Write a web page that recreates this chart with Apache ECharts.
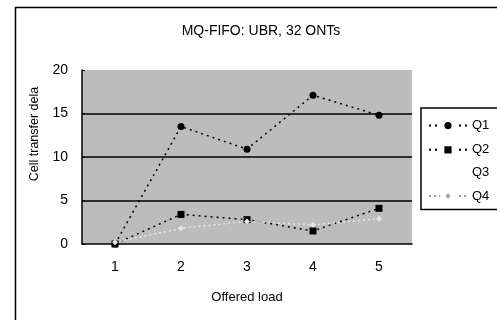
<!DOCTYPE html>
<html>
<head>
<meta charset="utf-8">
<script src="https://cdn.jsdelivr.net/npm/echarts@6/dist/echarts.min.js"></script>
<style>html,body{margin:0;padding:0;background:#fff}#c{width:497px;height:320px}</style>
</head>
<body>
<div id="c"></div>
<script>
const categories = ['1', '2', '3', '4', '5'];
const q1 = [0, 13.5, 10.9, 17.1, 14.8];
const q2 = [0, 3.4, 2.8, 1.5, 4.1];
const q3 = [0, 2.2, 2.7, 2.0, 2.8];
const q4 = [0.2, 1.8, 2.6, 2.2, 2.9];
const yTicks = [0, 5, 10, 15, 20];
const FONT = '"Liberation Sans", Arial, sans-serif';

const chart = echarts.init(document.getElementById('c'), null, {renderer: 'canvas'});
chart.setOption({
  animation: false,
  backgroundColor: '#fff',
  title: {
    text: 'MQ-FIFO: UBR, 32 ONTs',
    left: 256, top: 19, textAlign: 'center',
    textStyle: {fontFamily: FONT, fontSize: 14, fontWeight: 'normal', color: '#000'}
  },
  graphic: [
    {type: 'rect', left: 13, top: 5, shape: {width: 520, height: 340},
     style: {fill: 'none', stroke: '#000', lineWidth: 1.5}, silent: true, z: -1},
    {type: 'text', x: 35, y: 134, rotation: Math.PI / 2,
     style: {text: 'Cell transfer dela', fontFamily: FONT, fontSize: 12.5, fill: '#000',
             align: 'center', verticalAlign: 'middle'}}
  ],
  legend: {
    orient: 'vertical', left: 421, top: 108,
    padding: [10, 60, 6, 7], itemGap: 9,
    itemWidth: 38, itemHeight: 14,
    borderColor: '#000', borderWidth: 1.5,
    textStyle: {fontFamily: FONT, fontSize: 13, color: '#000'},
    data: [
      {name: 'Q1', itemStyle: {borderWidth: 4, borderColor: '#fff'}},
      {name: 'Q2', itemStyle: {borderWidth: 4, borderColor: '#fff'}},
      {name: 'Q3'},
      {name: 'Q4', itemStyle: {color: '#aaa', borderWidth: 4, borderColor: '#fff'}, lineStyle: {color: '#999'}}
    ]
  },
  grid: {left: 82, right: 85, top: 70, bottom: 76, show: true, backgroundColor: '#bcbcbc', borderWidth: 0},
  xAxis: {
    type: 'category', data: categories, boundaryGap: true,
    name: 'Offered load', nameLocation: 'middle', nameGap: 47,
    nameTextStyle: {fontFamily: FONT, fontSize: 13, color: '#000'},
    axisLine: {lineStyle: {color: '#000', width: 1.5}},
    axisTick: {inside: true, length: 4, lineStyle: {color: '#000', width: 1.5}},
    axisLabel: {fontFamily: FONT, fontSize: 14, color: '#000', margin: 16}
  },
  yAxis: {
    type: 'value', min: 0, max: 20, interval: 5,
    axisLine: {show: true, lineStyle: {color: '#000', width: 1.5}},
    axisTick: {show: true, inside: true, length: 3, lineStyle: {color: '#000'}},
    axisLabel: {fontFamily: FONT, fontSize: 14, color: '#000', margin: 14,
      formatter: v => (yTicks.indexOf(v) >= 0 ? String(v) : '')},
    splitLine: {show: true, showMinLine: false, showMaxLine: false, lineStyle: {color: '#000', width: 1.5}}
  },
  series: [
    {name: 'Q1', type: 'line', data: q1, symbol: 'circle', symbolSize: 7,
     itemStyle: {color: '#000'}, lineStyle: {color: '#000', width: 1.5, type: [2, 4]}},
    {name: 'Q2', type: 'line', data: q2, symbol: 'rect', symbolSize: 7,
     itemStyle: {color: '#000'}, lineStyle: {color: '#000', width: 1.5, type: [2, 4]}},
    {name: 'Q3', type: 'line', data: q3, symbol: 'none',
     itemStyle: {color: '#fff'}, lineStyle: {color: '#fff', width: 1, opacity: 0.0}},
    {name: 'Q4', type: 'line', data: q4, symbol: 'diamond', symbolSize: 6,
     itemStyle: {color: '#e6e6e6'}, lineStyle: {color: '#e6e6e6', width: 1.5, type: [2, 3]}}
  ]
});
</script>
</body>
</html>
